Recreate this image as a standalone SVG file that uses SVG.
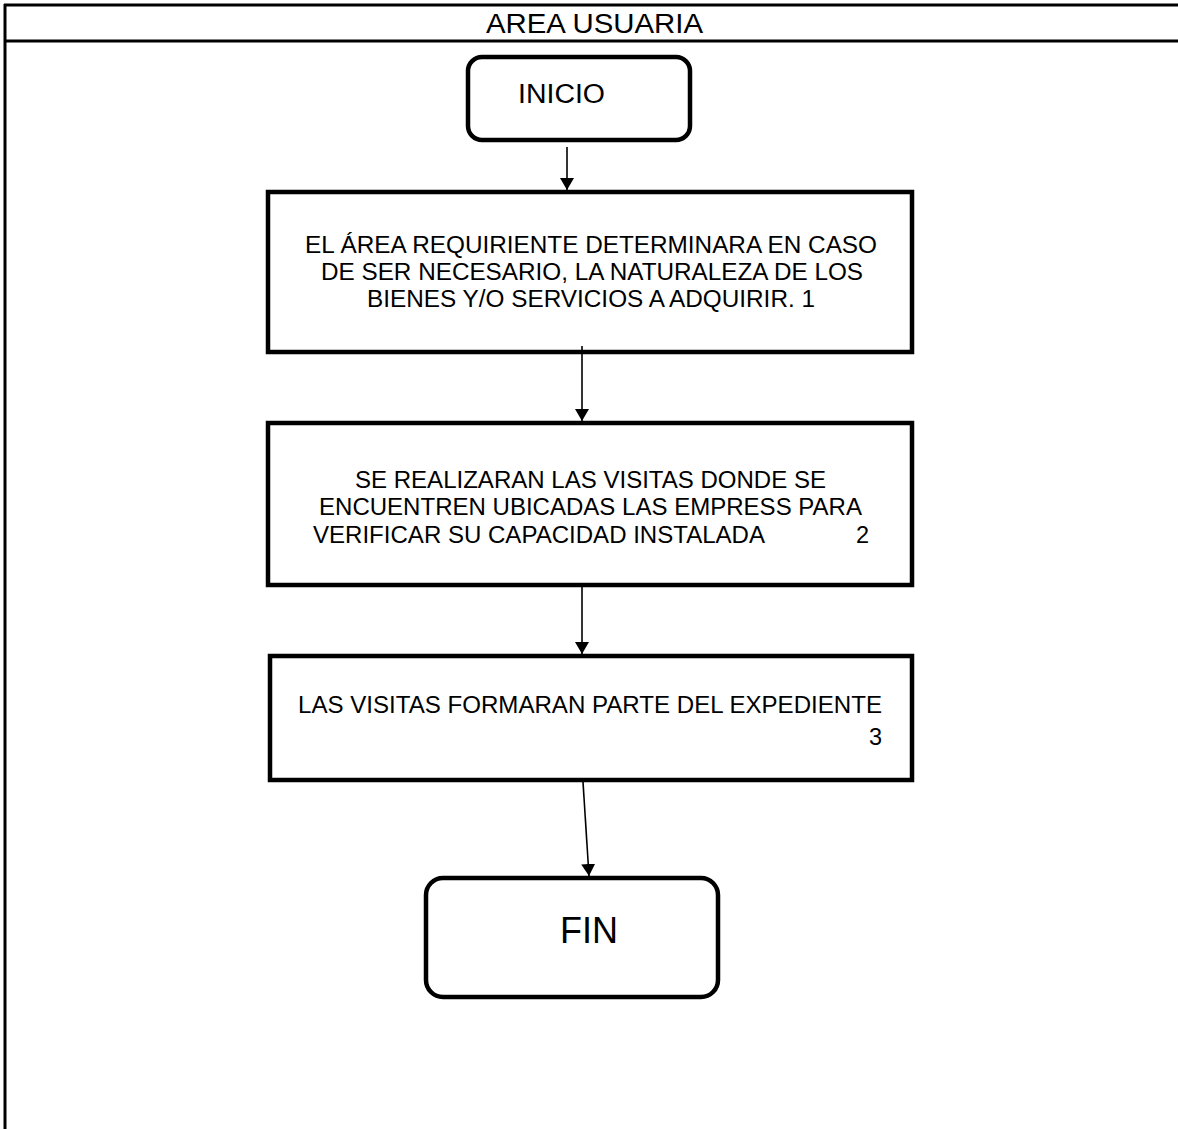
<svg xmlns="http://www.w3.org/2000/svg" width="1178" height="1129" viewBox="0 0 1178 1129">
<defs>
<style>
text{font-family:"Liberation Sans",Arial,sans-serif;fill:#000}
.lane{stroke:#000;stroke-width:3;fill:none}
.box{fill:#fff;stroke:#000;stroke-width:4.5}
.t{font-size:23.5px;text-anchor:middle}
.e{font-size:23.5px;text-anchor:end}
.conn{stroke:#000;stroke-width:1.6;fill:none;marker-end:url(#ah)}
</style>
<marker id="ah" viewBox="0 0 12 14" refX="12" refY="7" markerWidth="12" markerHeight="14" markerUnits="userSpaceOnUse" orient="auto">
<path d="M0,0 L12,7 L0,14 Z" fill="#000"/>
</marker>
</defs>
<rect width="1178" height="1129" fill="#fff"/>
<g id="lane">
<line class="lane" x1="4" y1="5" x2="1178" y2="5"/>
<line class="lane" x1="4" y1="41" x2="1178" y2="41"/>
<line class="lane" x1="5" y1="4" x2="5" y2="1129"/>
<text x="594.5" y="33" font-size="28" text-anchor="middle" textLength="217" lengthAdjust="spacingAndGlyphs">AREA USUARIA</text>
</g>
<g id="inicio">
<rect class="box" x="468" y="57" width="222" height="83" rx="14"/>
<text x="561.5" y="103" font-size="27" text-anchor="middle" textLength="87" lengthAdjust="spacingAndGlyphs">INICIO</text>
</g>
<g id="paso1">
<rect class="box" x="268" y="192" width="644" height="160"/>
<text class="t" x="591" y="253" textLength="572" lengthAdjust="spacingAndGlyphs">EL ÁREA REQUIRIENTE DETERMINARA EN CASO</text>
<text class="t" x="592" y="280" textLength="542" lengthAdjust="spacingAndGlyphs">DE SER NECESARIO, LA NATURALEZA DE LOS</text>
<text class="t" x="591" y="307" textLength="448" lengthAdjust="spacingAndGlyphs">BIENES Y/O SERVICIOS A ADQUIRIR. 1</text>
</g>
<g id="paso2">
<rect class="box" x="268" y="423" width="644" height="162"/>
<text class="t" x="590.5" y="488" textLength="471" lengthAdjust="spacingAndGlyphs">SE REALIZARAN LAS VISITAS DONDE SE</text>
<text class="t" x="590.5" y="515" textLength="543" lengthAdjust="spacingAndGlyphs">ENCUENTREN UBICADAS LAS EMPRESS PARA</text>
<text x="313" y="543" font-size="23.5" textLength="452" lengthAdjust="spacingAndGlyphs">VERIFICAR SU CAPACIDAD INSTALADA</text>
<text class="e" x="869" y="543">2</text>
</g>
<g id="paso3">
<rect class="box" x="270" y="656" width="642" height="124"/>
<text class="t" x="590" y="713" textLength="584" lengthAdjust="spacingAndGlyphs">LAS VISITAS FORMARAN PARTE DEL EXPEDIENTE</text>
<text class="e" x="882" y="745">3</text>
</g>
<g id="fin">
<rect class="box" x="426" y="878" width="292" height="119" rx="17"/>
<text x="589" y="943" font-size="36" text-anchor="middle">FIN</text>
</g>
<g id="connectors">
<line class="conn" x1="567" y1="147" x2="567" y2="190"/>
<line class="conn" x1="582" y1="346" x2="582" y2="421"/>
<line class="conn" x1="582" y1="585" x2="582" y2="654"/>
<line class="conn" x1="583" y1="782" x2="589" y2="876"/>
</g>
</svg>
